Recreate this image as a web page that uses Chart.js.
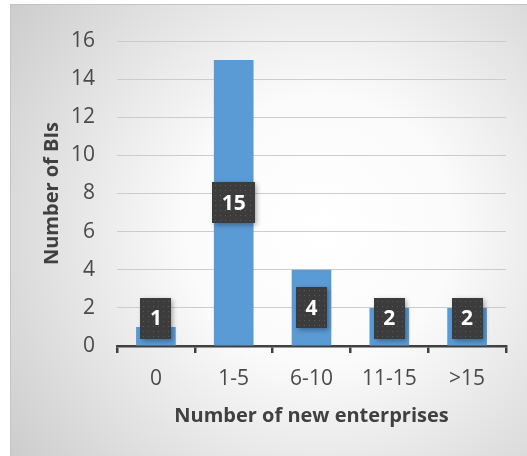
<!DOCTYPE html>
<html>
<head>
<meta charset="utf-8">
<script src="https://cdn.jsdelivr.net/npm/chart.js@4"></script>
<style>
  html, body { margin: 0; padding: 0; background: #fff; }
  #wrap { width: 527px; height: 456px; }
</style>
</head>
<body>
<div id="wrap"><canvas id="chart" width="527" height="456"></canvas></div>
<script>
const categories = ["0", "1-5", "6-10", "11-15", ">15"]
const counts = [1, 15, 4, 2, 2]
const yTicks = [0, 2, 4, 6, 8, 10, 12, 14, 16]

const FONT = "'Open Sans', sans-serif"

const backgroundPlugin = {
  id: 'panelBackground',
  beforeDraw(chart) {
    const ctx = chart.ctx
    ctx.save()
    ctx.fillStyle = "#ffffff"
    ctx.fillRect(0, 0, chart.width, chart.height)
    const g = ctx.createRadialGradient(320, 230, 0, 320, 230, 380)
    g.addColorStop(0, "#ffffff")
    g.addColorStop(0.35, "#fbfbfb")
    g.addColorStop(1, "#cdcdcd")
    ctx.fillStyle = g
    ctx.fillRect(10, 4, chart.width - 10, chart.height - 4)
    ctx.strokeStyle = "#c4c4c4"
    ctx.lineWidth = 1
    ctx.beginPath()
    ctx.moveTo(10.5, chart.height)
    ctx.lineTo(10.5, 4.5)
    ctx.lineTo(chart.width, 4.5)
    ctx.stroke()
    ctx.restore()
  }
}

const boxLabelPlugin = {
  id: 'boxLabels',
  afterDatasetsDraw(chart) {
    const ctx = chart.ctx
    const meta = chart.getDatasetMeta(0)
    const zeroY = chart.scales.y.getPixelForValue(0)

    ctx.save()
    ctx.font = "bold 21px " + FONT
    ctx.textAlign = "center"
    ctx.textBaseline = "middle"

    meta.data.forEach((bar, i) => {
      const text = String(chart.data.datasets[0].data[i])
      const w = ctx.measureText(text).width + 19
      const h = 41
      const cy = Math.min(bar.y + (bar.base - bar.y) / 2, zeroY - 28)
      const x0 = Math.round(bar.x - w / 2)
      const y0 = Math.round(cy - h / 2)

      ctx.save()
      ctx.shadowColor = "rgba(0,0,0,0.35)"
      ctx.shadowBlur = 5
      ctx.shadowOffsetX = 2
      ctx.shadowOffsetY = 2
      ctx.fillStyle = "#3c3c3c"
      ctx.fillRect(x0, y0, w, h)
      ctx.restore()

      ctx.fillStyle = "#5a5a5a"
      for (let dx = 3; dx < w - 1; dx += 5) {
        for (let dy = 3; dy < h - 1; dy += 5) {
          ctx.fillRect(x0 + dx, y0 + dy, 1, 1)
        }
      }

      ctx.fillStyle = "#ffffff"
      ctx.fillText(text, bar.x, cy + 1)
    })

    ctx.restore()
  }
}

new Chart(document.getElementById("chart"), {
  type: "bar",
  data: {
    labels: categories,
    datasets: [{
      data: counts,
      backgroundColor: "#5b9bd5",
      barPercentage: 0.51,
      categoryPercentage: 1
    }]
  },
  options: {
    responsive: false,
    animation: false,
    layout: {
      padding: { left: 10, top: 41, right: 21, bottom: 0 }
    },
    plugins: {
      legend: { display: false },
      tooltip: { enabled: false }
    },
    scales: {
      x: {
        grid: {
          offset: true,
          drawOnChartArea: false,
          drawTicks: true,
          tickLength: 7,
          color: "#404040",
          lineWidth: 2.5
        },
        border: { display: true, color: "#404040", width: 2.5 },
        ticks: {
          color: "#4a4a4a",
          font: { family: FONT, size: 21 },
          padding: 13
        },
        title: {
          display: true,
          text: "Number of new enterprises",
          color: "#404040",
          font: { family: FONT, size: 20, weight: "bold" },
          padding: { top: 0, bottom: 28 }
        },
        afterFit(scale) { scale.height = 110 }
      },
      y: {
        min: 0,
        max: 16,
        afterBuildTicks(scale) {
          scale.ticks = yTicks.map(v => ({ value: v }))
        },
        grid: {
          color: "#cccccc",
          lineWidth: 1,
          drawTicks: false
        },
        border: { display: false },
        ticks: {
          color: "#4a4a4a",
          font: { family: FONT, size: 21 },
          padding: 22
        },
        title: {
          display: true,
          text: "Number of BIs",
          color: "#404040",
          font: { family: FONT, size: 20, weight: "bold" },
          padding: { top: 30, bottom: 0 }
        },
        afterFit(scale) { scale.width = 107 }
      }
    }
  },
  plugins: [backgroundPlugin, boxLabelPlugin]
})
</script>
</body>
</html>
